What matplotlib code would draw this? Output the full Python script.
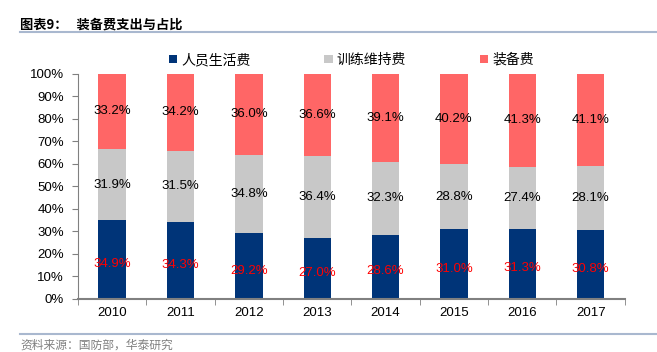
import matplotlib
matplotlib.use('Agg')
import matplotlib.pyplot as plt
import numpy as np

plt.rcParams['font.family'] = ['Liberation Sans', 'Noto Sans CJK SC', 'DejaVu Sans']

years = ['2010', '2011', '2012', '2013', '2014', '2015', '2016', '2017']
personnel = [34.9, 34.3, 29.2, 27.0, 28.6, 31.0, 31.3, 30.8]
training = [31.9, 31.5, 34.8, 36.4, 32.3, 28.8, 27.4, 28.1]
equipment = [33.2, 34.2, 36.0, 36.6, 39.1, 40.2, 41.3, 41.1]
series_names = ['人员生活费', '训练维持费', '装备费']


def main():
    fig = plt.figure(figsize=(6.57, 3.52), dpi=100)
    ax = fig.add_axes([0.1187, 0.1506, 0.8323, 0.6394])

    x = np.arange(len(years))
    w = 0.4
    p = np.array(personnel)
    t = np.array(training)
    e = np.array(equipment)

    ax.bar(x, p, w, color='#003478', label=series_names[0])
    ax.bar(x, t, w, bottom=p, color='#C8C8C8', label=series_names[1])
    ax.bar(x, e, w, bottom=p + t, color='#FF6666', label=series_names[2])

    # value labels
    for i in range(len(years)):
        ax.text(x[i], p[i] / 2 - 2, '%.1f%%' % p[i], ha='center', va='center',
                color='#FF0000', fontsize=9.5)
        ax.text(x[i], p[i] + t[i] / 2, '%.1f%%' % t[i], ha='center', va='center',
                color='black', fontsize=9.5)
        ax.text(x[i], p[i] + t[i] + e[i] / 2, '%.1f%%' % e[i], ha='center',
                va='center', color='black', fontsize=9.5)

    ax.set_xlim(-0.5, len(years) - 0.5)
    ax.set_ylim(0, 100)
    ax.set_yticks(range(0, 101, 10))
    ax.set_yticklabels(['%d%%' % v for v in range(0, 101, 10)], fontsize=9.5)
    ax.set_xticks(x)
    ax.set_xticklabels(years, fontsize=9.5)
    ax.set_xticks(np.arange(-0.5, len(years)), minor=True)
    ax.tick_params(axis='x', which='major', length=0, pad=6)
    ax.tick_params(axis='x', which='minor', length=4, color='#808080')
    ax.tick_params(axis='y', length=4, color='#808080', pad=6)

    for s in ['top', 'right']:
        ax.spines[s].set_visible(False)
    ax.spines['left'].set_color('#808080')
    ax.spines['bottom'].set_color('#808080')
    ax.spines['bottom'].set_linewidth(1.5)

    ax.legend(loc='lower center', bbox_to_anchor=(0.5, 1.0), ncol=3,
              frameon=False, handlelength=0.6, handleheight=0.6,
              handletextpad=0.3, columnspacing=5.3, borderaxespad=0.1,
              prop={'family': ['Noto Sans CJK SC'], 'size': 10})

    # header and footer
    fig.text(20 / 657, 1 - 25 / 352, '图表9：   装备费支出与占比', fontsize=9.5,
             fontweight='bold', family=['Noto Sans CJK SC'], va='center')
    fig.add_artist(plt.Line2D([20 / 657, 1], [1 - 32 / 352] * 2,
                              color='#A9B8CF', linewidth=1.5))
    fig.add_artist(plt.Line2D([20 / 657, 1], [1 - 334 / 352] * 2,
                              color='#A9B8CF', linewidth=1.5))
    fig.text(20 / 657, 1 - 345 / 352, '资料来源：国防部，华泰研究', fontsize=8.5,
             color='#808080', family=['Noto Sans CJK SC'], va='center')

    fig.savefig('out.png', dpi=100)


main()
